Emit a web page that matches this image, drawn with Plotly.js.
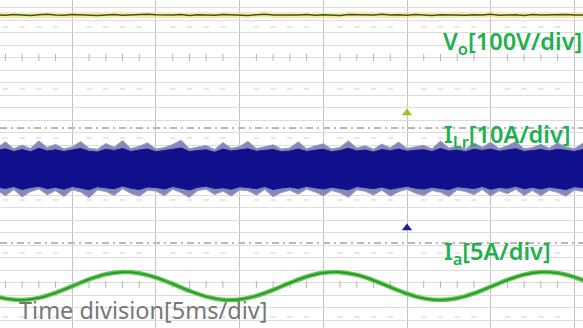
<!DOCTYPE html>
<html>
<head>
<meta charset="utf-8">
<script src="https://cdn.plot.ly/plotly-3.0.1.min.js"></script>
<style>html,body{margin:0;padding:0;background:#fff;}#chart{width:583px;height:328px;}</style>
</head>
<body>
<div id="chart"></div>
<script>
// ---- Data ----
// Time base: 5 ms/div, trigger at t = 0
const T_START_FAST = -24.5;   // ms, first sample of Vo / ILr envelope arrays
const T_STEP_FAST = 0.5;      // ms
const T_START_IA = -25;       // ms, first sample of Ia
const T_STEP_IA = 1;          // ms

// Output voltage Vo [V] (100 V/div)
const vo = [371,369,372,370,368,371,373,370,369,372,370,371,368,370,372,369,371,370,373,371,369,370,372,368,371,370,369,372,371,370,368,371,373,370,369,371,370,372,369,371,370,368,372,371,369,370,373,370,371,369,372,370,368,371,370,372,369,371,370,373,369,370,371,368,372,370,371,369,372,370,371,370];

// Resonant current ILr [A] (10 A/div) – high-frequency band, read as envelopes
const ilrOuterUp = [8.4,10.9,8.1,9.6,8.2,11.3,8.6,9.9,8.0,8.9,11.0,8.3,7.9,10.2,8.7,11.4,8.2,9.1,10.5,8.0,8.6,9.8,11.6,8.1,8.8,9.4,7.8,10.6,8.3,9.0,11.1,8.2,8.9,9.7,8.0,8.4,10.9,8.1,9.2,10.1,8.0,8.7,11.3,8.4,9.3,7.9,10.0,8.5,10.8,8.2,8.9,9.5,8.1,11.2,8.4,9.1,8.0,10.4,8.7,10.7,8.2,9.3,11.0,8.1,8.6,9.9,8.3,10.5,8.8,8.1,10.3,9.0];
const ilrInnerUp = [7.4,8.1,7.0,7.8,6.9,8.3,7.2,7.7,7.0,7.5,8.2,7.1,6.8,7.9,7.4,8.2,7.0,7.6,8.0,6.9,7.3,7.8,8.4,7.0,7.4,7.7,6.7,8.0,7.2,7.6,8.1,7.1,7.5,7.8,6.9,7.2,8.0,7.0,7.5,7.9,6.9,7.4,8.3,7.2,7.6,6.8,7.8,7.3,8.0,7.1,7.5,7.7,7.0,8.2,7.2,7.6,6.9,7.9,7.4,8.0,7.1,7.6,8.1,7.0,7.3,7.8,7.2,7.9,7.5,7.0,7.8,7.6];
const ilrInnerLo = [-7.2,-7.8,-7.0,-8.2,-7.4,-6.9,-7.9,-7.3,-8.1,-7.0,-7.6,-8.3,-7.1,-7.5,-7.9,-6.8,-7.7,-8.2,-7.2,-7.4,-8.0,-7.0,-7.6,-8.4,-7.3,-6.9,-7.8,-7.5,-8.1,-7.1,-7.4,-7.9,-7.0,-8.2,-7.6,-7.2,-7.8,-6.9,-7.5,-8.0,-7.3,-7.7,-8.3,-7.0,-7.4,-7.9,-7.2,-8.1,-7.5,-6.9,-7.7,-8.0,-7.3,-7.6,-8.2,-7.1,-7.5,-7.8,-7.0,-8.1,-7.4,-7.7,-6.9,-7.9,-7.3,-8.0,-7.2,-7.6,-8.2,-7.1,-7.5,-7.8];
const ilrOuterLo = [-8.5,-10.7,-8.2,-11.2,-9.1,-8.0,-10.3,-8.7,-11.0,-8.3,-9.2,-11.5,-8.4,-9.0,-10.6,-7.9,-9.8,-10.9,-8.5,-8.8,-10.7,-8.1,-9.5,-11.4,-8.6,-8.1,-10.2,-8.9,-10.8,-8.4,-8.7,-10.5,-8.2,-11.1,-9.4,-8.5,-10.1,-8.0,-9.2,-10.7,-8.6,-9.6,-11.3,-8.3,-8.9,-10.4,-8.5,-10.9,-9.1,-8.1,-9.7,-10.6,-8.6,-9.3,-11.0,-8.4,-9.0,-10.3,-8.2,-10.8,-8.7,-9.9,-8.1,-10.6,-8.6,-10.7,-8.5,-9.4,-10.9,-8.4,-9.0,-10.2];

// Current Ia [A] (5 A/div), one sample per ms
const ia = [-1.65,-2.52,-2.79,-2.38,-1.36,-0.03,1.33,2.35,2.78,2.55,1.68,0.41,-0.98,-2.12,-2.74,-2.68,-1.97,-0.78,0.61,1.85,2.63,2.77,2.22,1.14,-0.23,-1.54,-2.48,-2.80,-2.44,-1.48,-0.15,1.21,2.27,2.78,2.60,1.79,0.53];

// Text labels
const labelVo = 'V<sub>o</sub>[100V/div]';
const labelILr = 'I<sub>Lr</sub>[10A/div]';
const labelIa = 'I<sub>a</sub>[5A/div]';
const labelTime = 'Time division[5ms/div]';

// ---- Screen / channel settings ----
const W = 583, H = 328;
const PX_PER_DIV_X = 83.67;          // 5 ms
const PX_PER_DIV_Y = 25;
const TRIG_PX = 407;
const MS_PER_DIV = 5;
const xRange = [-TRIG_PX / PX_PER_DIV_X * MS_PER_DIV, (W - TRIG_PX) / PX_PER_DIV_X * MS_PER_DIV];
const DIVS_Y = H / PX_PER_DIV_Y;
const rowDiv = py => (H - py) / PX_PER_DIV_Y;
function chanRange(scale, groundPx) {
  const g = rowDiv(groundPx);
  return [(0 - g) * scale, (DIVS_Y - g) * scale];
}

const tFast = n => Array.from({length: n}, (_, i) => T_START_FAST + i * T_STEP_FAST);
const tIa = Array.from({length: ia.length}, (_, i) => T_START_IA + i * T_STEP_IA);

// grid decorations (minor tick marks every 1 ms)
const tickX = [];
for (let t = Math.ceil(xRange[0]); t <= xRange[1]; t++) if (t % 5 !== 0) tickX.push(t);
const centers = [rowDiv(57.5), rowDiv(284.5)];
const faintRows = [rowDiv(27), rowDiv(89), rowDiv(138), rowDiv(200), rowDiv(253), rowDiv(317)];

const traces = [];
centers.forEach(c => traces.push({x: tickX, y: tickX.map(() => c), type: 'scatter', mode: 'markers', yaxis: 'y',
  marker: {symbol: 'line-ns', size: 5, line: {width: 1, color: '#b4b4b4'}}, hoverinfo: 'skip'}));
faintRows.forEach(c => traces.push({x: tickX, y: tickX.map(() => c), type: 'scatter', mode: 'markers', yaxis: 'y',
  marker: {symbol: 'line-ew', size: 4, line: {width: 1, color: '#cfcfcf'}}, hoverinfo: 'skip'}));

// Vo
traces.push({x: tFast(vo.length), y: vo, yaxis: 'y2', type: 'scatter', mode: 'lines',
  line: {color: 'rgba(228,228,120,0.6)', width: 6}, hoverinfo: 'skip'});
traces.push({x: tFast(vo.length), y: vo, yaxis: 'y2', type: 'scatter', mode: 'lines',
  line: {color: '#4d4a22', width: 1.6}});

// ILr band
traces.push({x: tFast(ilrOuterUp.length), y: ilrOuterUp, yaxis: 'y3', type: 'scatter', mode: 'lines',
  line: {color: '#9a9ec6', width: 1}});
traces.push({x: tFast(ilrOuterLo.length), y: ilrOuterLo, yaxis: 'y3', type: 'scatter', mode: 'lines',
  line: {color: '#9a9ec6', width: 1}, fill: 'tonexty', fillcolor: '#8489ba'});
traces.push({x: tFast(ilrInnerUp.length), y: ilrInnerUp, yaxis: 'y3', type: 'scatter', mode: 'lines',
  line: {color: '#14148e', width: 1}});
traces.push({x: tFast(ilrInnerLo.length), y: ilrInnerLo, yaxis: 'y3', type: 'scatter', mode: 'lines',
  line: {color: '#14148e', width: 1}, fill: 'tonexty', fillcolor: '#10108c'});

// Ia
traces.push({x: tIa, y: ia, yaxis: 'y4', type: 'scatter', mode: 'lines', line: {color: '#5cc94a', width: 4.5, shape: 'spline'}});
traces.push({x: tIa, y: ia, yaxis: 'y4', type: 'scatter', mode: 'lines', line: {color: '#2f8f34', width: 1.6, shape: 'spline'}});

// trigger / channel markers
traces.push({x: [0], y: [rowDiv(113)], yaxis: 'y', type: 'scatter', mode: 'markers',
  marker: {symbol: 'triangle-up', size: 9, color: '#b4b81c'}});
traces.push({x: [0], y: [rowDiv(228)], yaxis: 'y', type: 'scatter', mode: 'markers',
  marker: {symbol: 'triangle-up', size: 9, color: '#1c1ca6'}});

const green = '#22b04e';
const fontFam = '"Noto Sans", "Open Sans", sans-serif';
function ann(text, px, py, size, color, weight) {
  return {text, xref: 'paper', yref: 'paper', x: px / W, y: 1 - py / H, xanchor: 'left', yanchor: 'middle',
    showarrow: false, font: {family: fontFam, size, color, weight}};
}

const dashLine = py => ({type: 'line', xref: 'paper', x0: 0, x1: 1, yref: 'y', y0: rowDiv(py), y1: rowDiv(py),
  line: {color: '#707070', width: 1.2, dash: '7px,4px,2px,4px'}, layer: 'below'});

const layout = {
  width: W, height: H, margin: {l: 0, r: 0, t: 0, b: 0},
  paper_bgcolor: '#ffffff', plot_bgcolor: '#ffffff', showlegend: false,
  xaxis: {range: xRange, tick0: 0, dtick: MS_PER_DIV, showgrid: true, gridcolor: '#c2c2c2', gridwidth: 1,
    zeroline: false, showticklabels: false, ticks: '', showline: false, fixedrange: true},
  yaxis: {range: [0, DIVS_Y], tick0: rowDiv(7.5) % 0.5, dtick: 0.5, showgrid: true, gridcolor: '#dcdcdc', gridwidth: 1,
    zeroline: false, showticklabels: false, ticks: '', showline: false, fixedrange: true},
  yaxis2: {overlaying: 'y', range: chanRange(100, 107.5), visible: false, fixedrange: true},
  yaxis3: {overlaying: 'y', range: chanRange(10, 169), visible: false, fixedrange: true},
  yaxis4: {overlaying: 'y', range: chanRange(5, 286), visible: false, fixedrange: true},
  shapes: [dashLine(128), dashLine(243)],
  annotations: [
    ann(labelVo, 441, 42, 23.5, green, 600),
    ann(labelILr, 442, 135, 23.5, green, 600),
    ann(labelIa, 442, 252, 23.5, green, 600),
    ann(labelTime, 17, 310, 23.5, '#777777', 400)
  ]
};

Plotly.newPlot('chart', traces, layout, {displayModeBar: false, staticPlot: true});
</script>
</body>
</html>
